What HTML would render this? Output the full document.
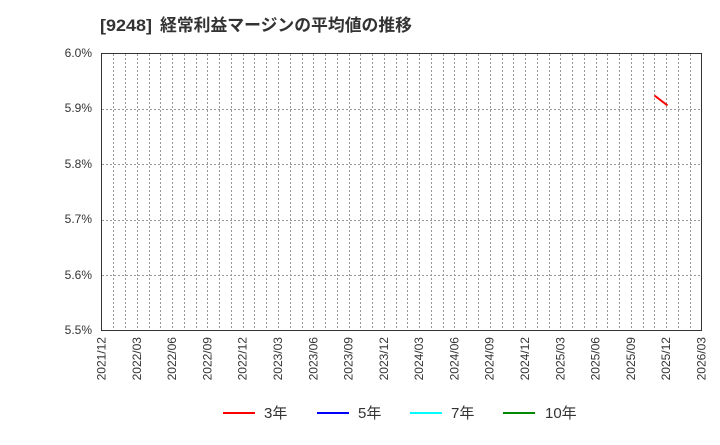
<!DOCTYPE html>
<html><head><meta charset="utf-8"><style>
body{margin:0;background:#fff;font-family:"Liberation Sans","Noto Sans CJK JP",sans-serif;}
</style></head><body>
<svg width="720" height="440" xmlns="http://www.w3.org/2000/svg" font-family="Liberation Sans, Noto Sans CJK JP, sans-serif">
<rect width="720" height="440" fill="#fff"/>
<text x="100" y="31" font-size="17" font-weight="bold" fill="#333" textLength="52" lengthAdjust="spacingAndGlyphs">[9248]</text>
<text x="160" y="31" font-size="17" font-weight="bold" fill="#333" textLength="252" lengthAdjust="spacingAndGlyphs">経常利益マージンの平均値の推移</text>
<g id="grid"></g>
<g font-size="12" fill="#333" text-anchor="end">
<text x="92" y="57">6.0%</text><text x="92" y="112">5.9%</text><text x="92" y="168">5.8%</text>
<text x="92" y="223">5.7%</text><text x="92" y="279">5.6%</text><text x="92" y="334">5.5%</text>
</g>
<g id="xl" font-size="12" fill="#333"></g>
<rect x="101.5" y="53.5" width="600" height="277" fill="none" stroke="#333" stroke-width="1"/>
<line x1="654.5" y1="95.5" x2="667.5" y2="105.5" stroke="#f00" stroke-width="2"/>
<g font-size="15" fill="#333">
<line x1="223" y1="413" x2="255" y2="413" stroke="#f00" stroke-width="2"/><text x="264" y="418">3年</text>
<line x1="317" y1="413" x2="349" y2="413" stroke="#00f" stroke-width="2"/><text x="358" y="418">5年</text>
<line x1="410" y1="413" x2="442" y2="413" stroke="#0ff" stroke-width="2"/><text x="451" y="418">7年</text>
<line x1="503" y1="413" x2="535" y2="413" stroke="#080" stroke-width="2"/><text x="545" y="418">10年</text>
</g>
</svg>
<script>
var ns="http://www.w3.org/2000/svg",g=document.getElementById("grid"),xl=document.getElementById("xl");
function L(x1,y1,x2,y2){var l=document.createElementNS(ns,"line");l.setAttribute("x1",x1);l.setAttribute("y1",y1);l.setAttribute("x2",x2);l.setAttribute("y2",y2);l.setAttribute("stroke","#999");l.setAttribute("stroke-dasharray","2,2");g.appendChild(l);}
var x0=101.5,w=600,n=51;
for(var i=1;i<n;i++){var x=Math.round(x0+w*i/n)+0.5;L(x,54,x,330);}
for(var j=1;j<5;j++){var y=Math.round(53.5+277*j/5)+0.5;L(102,y,701,y);}
var labs=["2021/12","2022/03","2022/06","2022/09","2022/12","2023/03","2023/06","2023/09","2023/12","2024/03","2024/06","2024/09","2024/12","2025/03","2025/06","2025/09","2025/12","2026/03"];
labs.forEach(function(s,k){var x=x0+w*(3*k)/n+4;var t=document.createElementNS(ns,"text");t.setAttribute("transform","translate("+x+",337) rotate(-90)");t.setAttribute("text-anchor","end");t.textContent=s;xl.appendChild(t);});
</script>
</body></html>
